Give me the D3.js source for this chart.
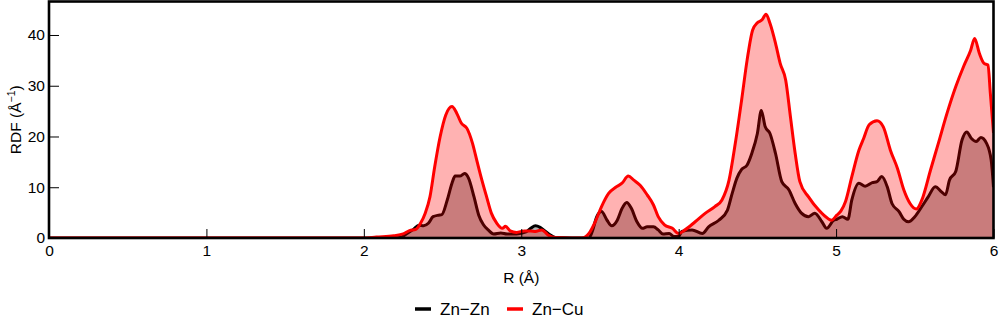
<!DOCTYPE html>
<html>
<head>
<meta charset="utf-8">
<script src="https://cdn.jsdelivr.net/npm/d3@7"></script>
<style>
  html, body { margin: 0; padding: 0; background: #fff; }
  svg { display: block; font-family: "Liberation Sans", Arial, sans-serif; }
</style>
</head>
<body>
<svg id="chart" width="1000" height="322"></svg>
<script>
// ---- data ----
const seriesNames = ["Zn\u2212Zn", "Zn\u2212Cu"];
const seriesColors = ["#000000", "#ff0000"];

const rZnZn = [0, 2.2, 2.23, 2.27, 2.315, 2.35, 2.38, 2.41, 2.44, 2.475, 2.495, 2.53, 2.56, 2.58, 2.61, 2.64, 2.665, 2.70, 2.73, 2.76, 2.79, 2.825, 2.87, 2.91, 2.97, 3.03, 3.06, 3.09, 3.12, 3.15, 3.185, 3.215, 3.43, 3.45, 3.48, 3.51, 3.545, 3.575, 3.61, 3.64, 3.67, 3.70, 3.735, 3.77, 3.80, 3.84, 3.87, 3.90, 3.94, 3.97, 4.0, 4.02, 4.085, 4.15, 4.19, 4.255, 4.31, 4.34, 4.37, 4.40, 4.435, 4.465, 4.50, 4.525, 4.55, 4.58, 4.615, 4.655, 4.70, 4.74, 4.78, 4.825, 4.865, 4.91, 4.94, 4.985, 5.005, 5.04, 5.075, 5.10, 5.145, 5.185, 5.23, 5.26, 5.29, 5.325, 5.355, 5.40, 5.43, 5.46, 5.50, 5.545, 5.585, 5.63, 5.67, 5.695, 5.72, 5.76, 5.80, 5.83, 5.86, 5.89, 5.92, 5.955, 5.985, 6.0];
const gZnZn = [0, 0, 0.1, 0.8, 1.7, 2.5, 2.4, 2.9, 4.2, 4.5, 4.6, 7.5, 10.8, 12.2, 12.2, 12.7, 11.8, 8.1, 4.5, 2.6, 1.6, 0.8, 1.0, 0.8, 0.8, 1.2, 1.9, 2.4, 2.1, 1.4, 0.6, 0.1, 0, 1.2, 4.2, 5.2, 3.5, 2.4, 3.5, 5.8, 7.0, 5.8, 3.2, 1.9, 2.2, 2.2, 1.6, 0.8, 0.9, 0.3, 0.3, 1.3, 1.6, 0.9, 2.2, 3.5, 5.5, 8.8, 11.8, 13.5, 14.4, 16.7, 20.6, 25.1, 21.9, 20.6, 16.7, 11.1, 9.5, 6.8, 4.9, 4.2, 4.9, 3.2, 1.9, 3.5, 3.7, 4.2, 3.7, 7.5, 10.8, 10.2, 10.9, 11.1, 12.1, 10.1, 6.8, 5.2, 3.7, 3.2, 4.2, 6.2, 8.1, 10.1, 9.1, 8.5, 11.4, 13.1, 19.3, 20.9, 19.6, 19.0, 19.8, 18.7, 15.4, 10.0];

const rZnCu = [0, 2.0, 2.08, 2.19, 2.25, 2.29, 2.33, 2.36, 2.39, 2.42, 2.45, 2.485, 2.52, 2.56, 2.59, 2.62, 2.655, 2.69, 2.72, 2.75, 2.78, 2.81, 2.845, 2.88, 2.90, 2.93, 2.97, 3.02, 3.06, 3.09, 3.13, 3.17, 3.22, 3.385, 3.43, 3.47, 3.51, 3.555, 3.60, 3.64, 3.68, 3.715, 3.755, 3.80, 3.84, 3.87, 3.91, 3.96, 4.0, 4.04, 4.105, 4.17, 4.23, 4.275, 4.32, 4.36, 4.40, 4.435, 4.47, 4.50, 4.53, 4.555, 4.58, 4.615, 4.645, 4.68, 4.71, 4.74, 4.77, 4.825, 4.89, 4.95, 4.97, 5.005, 5.03, 5.06, 5.10, 5.145, 5.175, 5.21, 5.26, 5.30, 5.345, 5.39, 5.43, 5.47, 5.51, 5.545, 5.60, 5.65, 5.705, 5.76, 5.81, 5.855, 5.88, 5.91, 5.94, 5.965, 5.98, 6.0];
const gZnCu = [0, 0, 0.2, 0.45, 0.8, 1.45, 1.7, 2.9, 4.9, 8.1, 14.0, 20.0, 24.2, 25.9, 24.6, 22.6, 21.6, 18.7, 15.0, 11.4, 8.1, 4.9, 2.9, 1.9, 2.3, 1.4, 1.1, 1.4, 1.4, 1.3, 1.6, 0.6, 0.1, 0, 0.9, 3.2, 6.2, 8.8, 10.0, 10.8, 12.2, 11.4, 10.4, 8.5, 6.5, 4.2, 2.6, 1.9, 0.9, 1.6, 3.2, 4.9, 6.2, 7.5, 11.4, 18.7, 27.2, 35.1, 41.0, 42.4, 43.0, 44.1, 42.3, 38.4, 34.4, 31.1, 23.9, 16.7, 11.1, 8.1, 5.5, 3.8, 3.5, 4.5, 5.3, 7.2, 12.1, 17.3, 19.6, 22.3, 23.1, 21.9, 17.3, 13.7, 9.5, 6.8, 5.7, 7.5, 13.4, 18.7, 24.6, 29.8, 33.8, 37.0, 39.3, 36.4, 34.4, 34.1, 28.5, 20.7];

const xTicks = [0, 1, 2, 3, 4, 5, 6];
const yTicks = [0, 10, 20, 30, 40];
const xDomain = [0, 6];
const yDomain = [0, 46.6];

// ---- layout ----
const svg = d3.select("#chart");
const mLeft = 49, mRight = 993.5, mTop = 1.5, mBottom = 238;

const x = d3.scaleLinear().domain(xDomain).range([mLeft, mRight]);
const y = d3.scaleLinear().domain(yDomain).range([mBottom, mTop]);

svg.append("defs").append("clipPath").attr("id", "clip")
  .append("rect").attr("x", mLeft).attr("y", mTop)
  .attr("width", mRight - mLeft).attr("height", mBottom - mTop);

const plot = svg.append("g").attr("clip-path", "url(#clip)");

const toPts = (rs, gs) => rs.map((r, i) => [r, gs[i]]);
const area = d3.area().x(d => x(d[0])).y0(y(0)).y1(d => y(d[1])).curve(d3.curveMonotoneX);
const line = d3.line().x(d => x(d[0])).y(d => y(d[1])).curve(d3.curveMonotoneX);

const data = [toPts(rZnZn, gZnZn), toPts(rZnCu, gZnCu)];

data.forEach((pts, i) => {
  plot.append("path").attr("d", area(pts))
    .attr("fill", seriesColors[i]).attr("fill-opacity", 0.3);
  plot.append("path").attr("d", line(pts))
    .attr("fill", "none").attr("stroke", seriesColors[i])
    .attr("stroke-width", 3).attr("stroke-linejoin", "round");
});

// ---- axes ----
const fontFam = "Liberation Sans, Arial, sans-serif";
const xAxis = d3.axisBottom(x).tickValues(xTicks).tickSize(-9).tickPadding(7).tickFormat(d3.format("d"));
const gx = svg.append("g").attr("transform", `translate(0,${mBottom})`).call(xAxis);
gx.select(".domain").remove();
gx.selectAll(".tick line").attr("stroke", "#000").attr("stroke-width", 1);
gx.selectAll(".tick text").attr("font-size", 15.5).attr("fill", "#000").attr("font-family", fontFam);

const yAxis = d3.axisLeft(y).tickValues(yTicks).tickSize(-10).tickPadding(4).tickFormat(d3.format("d"));
const gy = svg.append("g").attr("transform", `translate(${mLeft},0)`).call(yAxis);
gy.select(".domain").remove();
gy.selectAll(".tick line").attr("stroke", "#000").attr("stroke-width", 1);
gy.selectAll(".tick text").attr("font-size", 15.5).attr("fill", "#000").attr("font-family", fontFam);

// frame
svg.append("rect").attr("x", mLeft).attr("y", mTop)
  .attr("width", mRight - mLeft).attr("height", mBottom - mTop)
  .attr("fill", "none").attr("stroke", "#000").attr("stroke-width", 2.6);

// axis titles
svg.append("text").attr("x", (mLeft + mRight) / 2).attr("y", 283)
  .attr("text-anchor", "middle").attr("font-size", 15.5).text("R (\u00C5)");

const yl = svg.append("text")
  .attr("transform", `translate(21,${(mTop + mBottom) / 2}) rotate(-90)`)
  .attr("text-anchor", "middle").attr("font-size", 15.5);
yl.append("tspan").text("RDF (\u00C5");
yl.append("tspan").attr("dy", -6).attr("font-size", 10.5).text("\u22121");
yl.append("tspan").attr("dy", 6).text(")");

// legend
const legend = svg.append("g");
const legX = [415, 507];
seriesNames.forEach((name, i) => {
  legend.append("line").attr("x1", legX[i]).attr("x2", legX[i] + 16)
    .attr("y1", 309).attr("y2", 309)
    .attr("stroke", seriesColors[i]).attr("stroke-width", 3.5);
  legend.append("text").attr("x", legX[i] + 25).attr("y", 315)
    .attr("font-size", 17).attr("fill", "#000").text(name);
});
</script>
</body>
</html>
